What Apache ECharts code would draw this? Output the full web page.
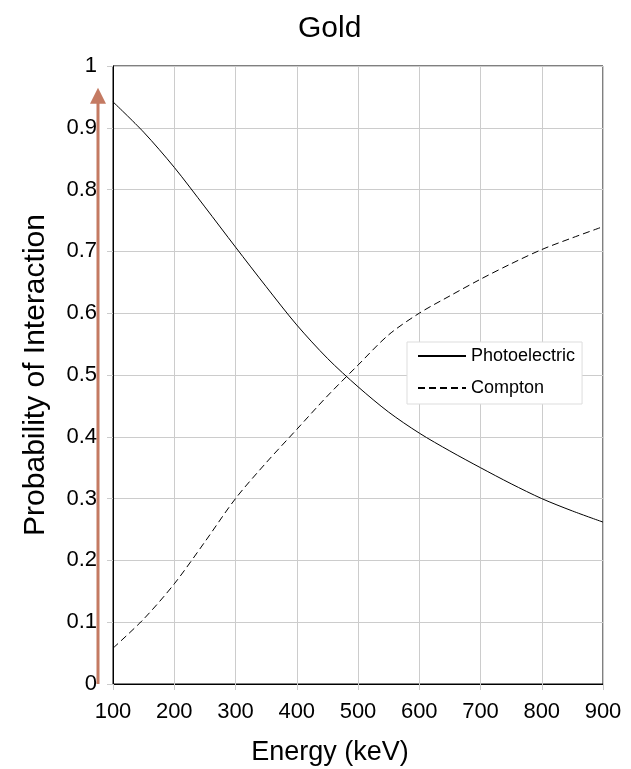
<!DOCTYPE html>
<html>
<head>
  <meta charset="UTF-8">
  <title>Gold</title>
  <style>
    body { margin: 0; background: #fff; }
    #chart { width: 631px; height: 769px; }
  </style>
  <script src="https://cdn.jsdelivr.net/npm/echarts@6/dist/echarts.min.js"></script>
</head>
<body>
<div id="chart"></div>
<script>
  // energies (keV) and probabilities
  const energy = [100, 150, 200, 250, 300, 350, 400, 450, 500, 550, 600, 650, 700, 750, 800, 850, 900];
  const photoelectric = [0.942, 0.893, 0.836, 0.772, 0.707, 0.643, 0.581, 0.527, 0.481, 0.440, 0.406, 0.377, 0.350, 0.324, 0.300, 0.280, 0.262];
  const compton = [0.058, 0.105, 0.162, 0.230, 0.300, 0.358, 0.412, 0.466, 0.516, 0.565, 0.600, 0.628, 0.655, 0.680, 0.703, 0.722, 0.740];
  const yTicks = [0, 0.1, 0.2, 0.3, 0.4, 0.5, 0.6, 0.7, 0.8, 0.9, 1];
  const arrowTop = 0.965;

  const font = 'Liberation Sans, Arial, Helvetica, sans-serif';
  const chart = echarts.init(document.getElementById('chart'));

  chart.setOption({
    animation: false,
    title: {
      text: 'Gold', left: 293, top: 9,
      textStyle: { fontFamily: font, fontSize: 30, fontWeight: 'normal', color: '#000' }
    },
    grid: {
      left: 113, right: 28, top: 66, bottom: 85,
      outerBoundsMode: 'none',
      show: true, borderColor: '#000', borderWidth: 1
    },
    legend: {
      orient: 'vertical', left: 407, top: 342,
      backgroundColor: '#fff', borderColor: '#ddd', borderWidth: 1,
      padding: [5, 7, 7, 10], itemGap: 14, itemWidth: 48, itemHeight: 18,
      itemStyle: { opacity: 0 },
      textStyle: { fontFamily: font, fontSize: 18, color: '#000' },
      data: ['Photoelectric', 'Compton']
    },
    xAxis: {
      type: 'value', min: 100, max: 900, interval: 100,
      name: 'Energy (keV)', nameLocation: 'middle', nameGap: 55,
      nameTextStyle: { fontFamily: font, fontSize: 27, color: '#000', padding: [0, 56, 0, 0] },
      axisLine: { show: true, lineStyle: { color: '#000', width: 1 } },
      axisTick: { show: true, length: 6, lineStyle: { color: '#ccc' } },
      axisLabel: { fontFamily: font, fontSize: 22, color: '#000', margin: 17 },
      splitLine: { show: true, lineStyle: { color: '#ccc', width: 1 } }
    },
    yAxis: {
      type: 'value', min: 0, max: 1, interval: 0.1,
      name: 'Probability of Interaction', nameLocation: 'middle', nameGap: 62,
      nameTextStyle: { fontFamily: font, fontSize: 30, color: '#000' },
      axisLine: { show: true, lineStyle: { color: '#000', width: 1 } },
      axisTick: { show: true, length: 6, lineStyle: { color: '#ccc' } },
      axisLabel: {
        fontFamily: font, fontSize: 22, color: '#000', margin: 16,
        formatter: v => String(yTicks.find(t => Math.abs(t - v) < 1e-9) ?? v)
      },
      splitLine: { show: true, lineStyle: { color: '#ccc', width: 1 } }
    },
    series: [
      {
        name: 'Photoelectric', type: 'line', smooth: 0.3, symbol: 'none',
        lineStyle: { color: '#000', width: 1 }, itemStyle: { color: '#000' },
        data: energy.map((e, i) => [e, photoelectric[i]])
      },
      {
        name: 'Compton', type: 'line', smooth: 0.3, symbol: 'none',
        lineStyle: { color: '#000', width: 1, type: [7, 4] }, itemStyle: { color: '#000' },
        data: energy.map((e, i) => [e, compton[i]])
      }
    ]
  });

  // orange arrow on the left of the y axis, placed through the y scale
  const bottomPx = chart.convertToPixel({ yAxisIndex: 0 }, 0);
  const tipPx = chart.convertToPixel({ yAxisIndex: 0 }, arrowTop);
  const ax = 98;
  const arrowColor = '#c47a62';
  chart.setOption({
    graphic: [
      {
        type: 'line', silent: true,
        shape: { x1: ax, y1: bottomPx, x2: ax, y2: tipPx + 14 },
        style: { stroke: arrowColor, lineWidth: 3 }
      },
      {
        type: 'polygon', silent: true,
        shape: { points: [[ax, tipPx], [ax - 8, tipPx + 16], [ax + 8, tipPx + 16]] },
        style: { fill: arrowColor }
      }
    ]
  });
</script>
</body>
</html>
